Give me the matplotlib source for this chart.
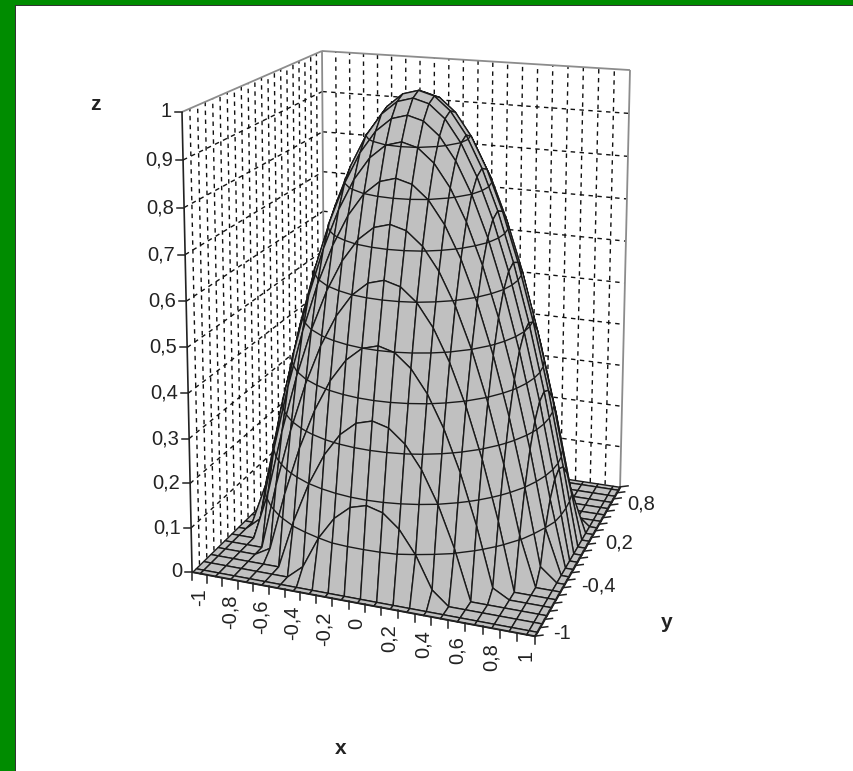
import numpy as np
import matplotlib
matplotlib.use('Agg')
import matplotlib.pyplot as plt
from matplotlib.lines import Line2D
from matplotlib.patches import Rectangle
from mpl_toolkits.mplot3d.art3d import Poly3DCollection, Line3DCollection

plt.rcParams['font.family'] = ['Liberation Sans', 'DejaVu Sans']

# category values on the two floor axes
x_vals = [-1, -0.9, -0.8, -0.7, -0.6, -0.5, -0.4, -0.3, -0.2, -0.1, 0,
          0.1, 0.2, 0.3, 0.4, 0.5, 0.6, 0.7, 0.8, 0.9, 1]
y_vals = list(x_vals)
x_labels = ['-1', '-0,8', '-0,6', '-0,4', '-0,2', '0', '0,2', '0,4', '0,6', '0,8', '1']
x_label_vals = [-1, -0.8, -0.6, -0.4, -0.2, 0, 0.2, 0.4, 0.6, 0.8, 1]
y_labels = ['-1', '-0,4', '0,2', '0,8']
y_label_vals = [-1, -0.4, 0.2, 0.8]
z_ticks = [0, 0.1, 0.2, 0.3, 0.4, 0.5, 0.6, 0.7, 0.8, 0.9, 1]
z_labels = ['0', '0,1', '0,2', '0,3', '0,4', '0,5', '0,6', '0,7', '0,8', '0,9', '1']

# heights, one quarter: rows |y| = 0 .. 1, columns |x| = 0 .. 1
z_quarter = [
    [1.00, 0.99, 0.96, 0.91, 0.84, 0.75, 0.64, 0.51, 0.36, 0.19, 0],
    [0.99, 0.98, 0.95, 0.90, 0.83, 0.74, 0.63, 0.50, 0.35, 0.18, 0],
    [0.96, 0.95, 0.92, 0.87, 0.80, 0.71, 0.60, 0.47, 0.32, 0.15, 0],
    [0.91, 0.90, 0.87, 0.82, 0.75, 0.66, 0.55, 0.42, 0.27, 0.10, 0],
    [0.84, 0.83, 0.80, 0.75, 0.68, 0.59, 0.48, 0.35, 0.20, 0.03, 0],
    [0.75, 0.74, 0.71, 0.66, 0.59, 0.50, 0.39, 0.26, 0.11, 0, 0],
    [0.64, 0.63, 0.60, 0.55, 0.48, 0.39, 0.28, 0.15, 0, 0, 0],
    [0.51, 0.50, 0.47, 0.42, 0.35, 0.26, 0.15, 0.02, 0, 0, 0],
    [0.36, 0.35, 0.32, 0.27, 0.20, 0.11, 0, 0, 0, 0, 0],
    [0.19, 0.18, 0.15, 0.10, 0.03, 0, 0, 0, 0, 0, 0],
    [0, 0, 0, 0, 0, 0, 0, 0, 0, 0, 0],
]
levels = [0.1, 0.2, 0.3, 0.4, 0.5, 0.6, 0.7, 0.8, 0.9]

EDGE = 1.05  # axis runs half a category past the first and last value
INK = '#1a1a1a'

q = np.array(z_quarter)
half = np.hstack([q[:, :0:-1], q])
z_full = np.vstack([half[:0:-1], half])
# flat skirt out to the axis edge
Z = np.pad(z_full, 1, mode='edge')
xs = np.array([-EDGE] + x_vals + [EDGE])
ys = np.array([-EDGE] + y_vals + [EDGE])
tick_pos = -EDGE + 0.1 * np.arange(22)

# box corners in data space -> pixel position in the reference
box = [(-EDGE, -EDGE, 0, 192, 572), (EDGE, -EDGE, 0, 535, 636),
       (EDGE, EDGE, 0, 620, 487), (-EDGE, EDGE, 0, 325, 442),
       (-EDGE, -EDGE, 1, 182, 112), (-EDGE, EDGE, 1, 322, 51),
       (EDGE, EDGE, 1, 630, 70)]
A, b = [], []
for X, Y, Z_, u, v in box:
    A.append([X, Y, Z_, 1, 0, 0, 0, 0, -u * X, -u * Y, -u * Z_])
    A.append([0, 0, 0, 0, X, Y, Z_, 1, -v * X, -v * Y, -v * Z_])
    b += [u, v]
p = np.linalg.lstsq(np.array(A, float), np.array(b, float), rcond=None)[0]
M = np.array([p[:4], p[4:8], [-1, 1, -0.5, 0], [p[8], p[9], p[10], 1.0]])


def to_px(x, y, z):
    v = M @ np.array([x, y, z, 1.0])
    return v[0] / v[3], v[1] / v[3]


fig = plt.figure(figsize=(8.54, 7.71), dpi=100, facecolor='white')
# square axes, data units of the 2D view are pixels
ax = fig.add_axes([0, -41.5 / 771, 1, 854 / 771], projection='3d')
ax.set_autoscale_on(False)
ax.computed_zorder = False
ax.set_axis_off()
ax.patch.set_visible(False)
ax.get_proj = lambda: M
ax.viewLim.intervalx = (0, 854)
ax.viewLim.intervaly = (812.5, -41.5)


def lines3d(segs, color, lw, zorder, ls='solid'):
    ax.add_collection3d(Line3DCollection(segs, colors=color, linewidths=lw,
                                         linestyles=ls, zorder=zorder), autolim=False)


# walls
grid = []
for t in tick_pos[1:-1]:
    grid.append([(t, EDGE, 0), (t, EDGE, 1)])
    grid.append([(-EDGE, t, 0), (-EDGE, t, 1)])
for z in z_ticks[1:-1]:
    grid.append([(-EDGE, EDGE, z), (EDGE, EDGE, z)])
    grid.append([(-EDGE, -EDGE, z), (-EDGE, EDGE, z)])
lines3d(grid, '#111111', 1.0, 1, ls=(0, (3.2, 3.2)))
frame = [[(-EDGE, -EDGE, 1), (-EDGE, EDGE, 1)], [(-EDGE, EDGE, 1), (EDGE, EDGE, 1)],
         [(EDGE, EDGE, 1), (EDGE, EDGE, 0)], [(-EDGE, EDGE, 0), (-EDGE, EDGE, 1)]]
lines3d(frame, '#8c8c8c', 1.3, 2)


def cell_lines(cx, cy, cz, lev):
    pts = []
    for k in range(4):
        k2 = (k + 1) % 4
        if (cz[k] < lev <= cz[k2]) or (cz[k2] < lev <= cz[k]):
            t = (lev - cz[k]) / (cz[k2] - cz[k])
            pts.append((cx[k] + t * (cx[k2] - cx[k]),
                        cy[k] + t * (cy[k2] - cy[k]), lev))
    return [pts[n:n + 2] for n in range(0, len(pts) - 1, 2)]


# back to front, so nearer cells hide what lies behind them
order = 10
for j in range(len(ys) - 2, -1, -1):
    for i in range(len(xs) - 1):
        cx = [xs[i], xs[i + 1], xs[i + 1], xs[i]]
        cy = [ys[j], ys[j], ys[j + 1], ys[j + 1]]
        cz = [Z[j, i], Z[j, i + 1], Z[j + 1, i + 1], Z[j + 1, i]]
        poly = Poly3DCollection([list(zip(cx, cy, cz))], facecolors='#c0c0c0',
                                edgecolors=INK, linewidths=1.0, zorder=order)
        ax.add_collection3d(poly, autolim=False)
        segs = []
        for lev in levels:
            segs += cell_lines(cx, cy, cz, lev)
        if segs:
            lines3d(segs, INK, 1.0, order + 0.5)
        order += 1

# axes, ticks and labels
top = order + 10
lines3d([[(-EDGE, -EDGE, 0), (-EDGE, -EDGE, 1)], [(-EDGE, -EDGE, 0), (EDGE, -EDGE, 0)],
         [(EDGE, -EDGE, 0), (EDGE, EDGE, 0)]], '#222222', 1.2, top)


def tick(pt, dx, dy):
    ax.add_artist(Line2D([pt[0], pt[0] + dx], [pt[1], pt[1] + dy], color='#222222',
                         lw=1.1, zorder=top, transform=ax.transData))


for t in tick_pos:
    tick(to_px(t, -EDGE, 0), 0, 8)
    tick(to_px(EDGE, t, 0), 8, -1)
for z, lab in zip(z_ticks, z_labels):
    pt = to_px(-EDGE, -EDGE, z)
    tick(pt, -7, 0)
    ax.text2D(pt[0] - 10, pt[1], lab, transform=ax.transData, ha='right', va='center',
              fontsize=14.5, color='#222222', zorder=top)
for val, lab in zip(x_label_vals, x_labels):
    pt = to_px(val, -EDGE, 0)
    ax.text2D(pt[0], pt[1] + 15, lab, transform=ax.transData, ha='center', va='top',
              rotation=90, fontsize=14.5, color='#222222', zorder=top)
for val, lab in zip(y_label_vals, y_labels):
    pt = to_px(EDGE, val, 0)
    ax.text2D(pt[0] + 16, pt[1] + 2, lab, transform=ax.transData, ha='left', va='center',
              fontsize=14.5, color='#222222', zorder=top)
for s, tx, ty in [('z', 95, 104), ('y', 667, 622), ('x', 341, 748)]:
    ax.text2D(tx, ty, s, transform=ax.transData, ha='center', va='center', fontsize=15,
              fontweight='bold', color='#222222', zorder=top)

# green slide frame on the left and top
for rect, col in [((0, 0, 16 / 854, 1), '#008c00'), ((0, 1 - 5 / 771, 1, 5 / 771), '#008c00'),
                  ((15 / 854, 0, 1.2 / 854, 1 - 5 / 771), '#333333'),
                  ((15 / 854, 1 - 6 / 771, 1, 1.2 / 771), '#333333')]:
    fig.add_artist(Rectangle(rect[:2], rect[2], rect[3], transform=fig.transFigure,
                             facecolor=col, edgecolor='none'))

fig.savefig('out.png', dpi=100)
